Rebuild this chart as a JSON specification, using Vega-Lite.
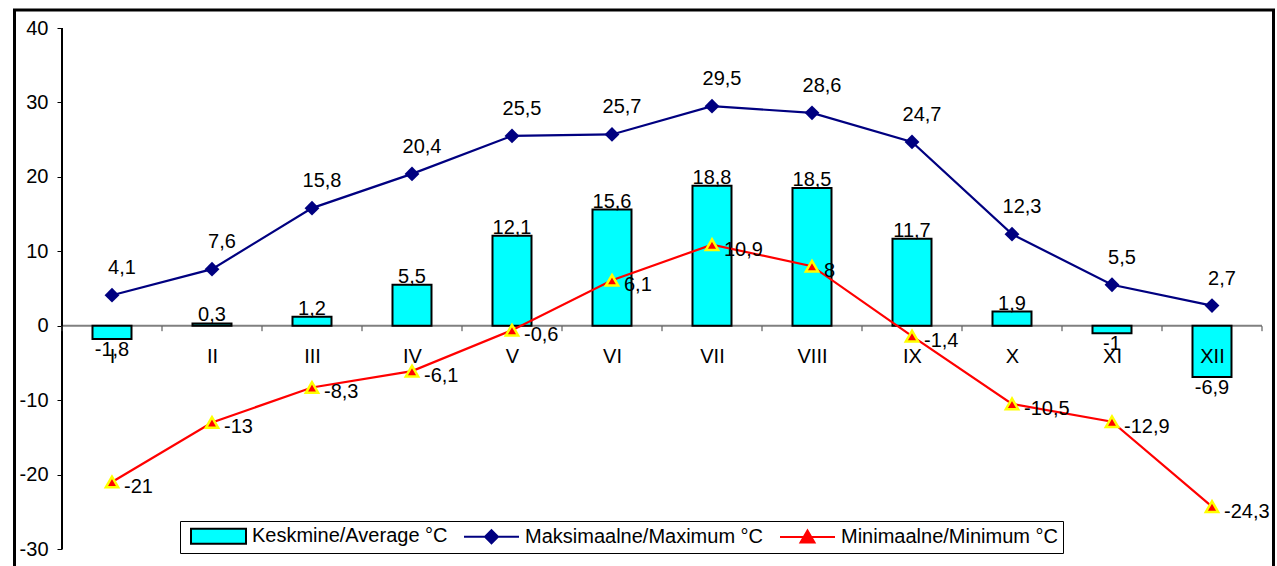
{
  "$schema": "https://vega.github.io/schema/vega-lite/v6.json",
  "autosize": "none",
  "width": 1259,
  "height": 562,
  "padding": {"left": 14.5, "top": 10, "right": 3.5, "bottom": -6},
  "background": "white",
  "config": {
    "font": "Liberation Sans",
    "locale": {"number": {"decimal": ",", "thousands": " ", "grouping": [3], "currency": ["", " €"], "minus": "-"}},
    "view": {"stroke": "black", "strokeWidth": 3, "fill": "white"},
    "axis": {"labelFont": "Liberation Sans", "labelFontSize": 20, "labelColor": "black", "grid": false},
    "text": {"font": "Liberation Sans", "fontSize": 20, "color": "black"}
  },
  "data": {
    "values": [
      {"m": "I", "avg": -1.8, "max": 4.1, "min": -21},
      {"m": "II", "avg": 0.3, "max": 7.6, "min": -13},
      {"m": "III", "avg": 1.2, "max": 15.8, "min": -8.3},
      {"m": "IV", "avg": 5.5, "max": 20.4, "min": -6.1},
      {"m": "V", "avg": 12.1, "max": 25.5, "min": -0.6},
      {"m": "VI", "avg": 15.6, "max": 25.7, "min": 6.1},
      {"m": "VII", "avg": 18.8, "max": 29.5, "min": 10.9},
      {"m": "VIII", "avg": 18.5, "max": 28.6, "min": 8},
      {"m": "IX", "avg": 11.7, "max": 24.7, "min": -1.4},
      {"m": "X", "avg": 1.9, "max": 12.3, "min": -10.5},
      {"m": "XI", "avg": -1, "max": 5.5, "min": -12.9},
      {"m": "XII", "avg": -6.9, "max": 2.7, "min": -24.3}
    ]
  },
  "encoding": {
    "x": {
      "field": "m", "type": "nominal", "sort": null,
      "scale": {"domain": ["I","II","III","IV","V","VI","VII","VIII","IX","X","XI","XII"], "paddingInner": 0, "paddingOuter": 0.295, "align": 0.805},
      "axis": {"orient": "bottom", "offset": -246.3, "domain": false, "ticks": true, "tickBand": "extent", "tickSize": 5, "tickColor": "#404040", "labelPadding": 16, "labelAngle": 0, "title": null}
    }
  },
  "layer": [
    {
      "mark": {"type": "rect", "filled": false, "stroke": "#808080", "strokeWidth": 2},
      "encoding": {
        "y": {"datum": 0, "type": "quantitative", "scale": {"domain": [-33.09, 42.42], "nice": false, "zero": false},
              "axis": {"orient": "left", "offset": -47.5, "values": [-30,-20,-10,0,10,20,30,40], "domain": false, "tickSize": 5, "tickColor": "black", "labelPadding": 9, "title": null, "format": "d"}},
        "y2": {"datum": 0}
      }
    },
    {
      "mark": {"type": "rule", "color": "black", "strokeWidth": 1},
      "encoding": {
        "x": {"datum": "I", "type": "nominal", "bandPosition": 0},
        "y": {"datum": -30, "type": "quantitative"},
        "y2": {"datum": 40}
      }
    },
    {
      "mark": {"type": "bar", "width": {"band": 0.39}, "strokeWidth": 2},
      "encoding": {
        "y": {"field": "avg", "type": "quantitative"},
        "y2": {"datum": 0},
        "fill": {"datum": "Keskmine/Average °C", "type": "nominal",
          "scale": {"domain": ["Keskmine/Average °C", "Maksimaalne/Maximum °C", "Minimaalne/Minimum °C"], "range": ["#00FFFF", "#000080", "#FF0000"]},
          "legend": {
            "orient": "none", "legendX": 165.5, "legendY": 511, "direction": "horizontal", "title": null,
            "fillColor": "white", "strokeColor": "black", "padding": 5,
            "symbolSize": 100, "symbolStrokeWidth": 2, "labelFontSize": 20, "labelFont": "Liberation Sans", "labelColor": "black",
            "labelOffset": 47, "columnPadding": 10, "labelLimit": 400,
            "encode": {"symbols": {"update": {
              "shape": {"signal": "datum.value === 'Keskmine/Average °C' ? 'M-0.8,-1.5H10.2V1.5H-0.8Z' : datum.value === 'Maksimaalne/Maximum °C' ? 'M-0.8,0H10.2M4.7,-1.3L6,0L4.7,1.3L3.4,0Z' : 'M-0.8,0H10.2M4.7,-1.3L6.1,1.1L3.3,1.1Z'"},
              "fill": {"signal": "scale('fill', datum.value)"},
              "stroke": {"signal": "scale('stroke', datum.value)"},
              "strokeWidth": {"value": 2},
              "opacity": {"value": 1},
              "fillOpacity": {"value": 1}
            }}}
          }},
        "stroke": {"datum": "Keskmine/Average °C", "type": "nominal",
          "scale": {"domain": ["Keskmine/Average °C", "Maksimaalne/Maximum °C", "Minimaalne/Minimum °C"], "range": ["#000000", "#000080", "#FF0000"]},
          "legend": {
            "orient": "none", "legendX": 165.5, "legendY": 511, "direction": "horizontal", "title": null,
            "fillColor": "white", "strokeColor": "black", "padding": 5,
            "symbolSize": 100, "symbolStrokeWidth": 2, "labelFontSize": 20, "labelFont": "Liberation Sans", "labelColor": "black",
            "labelOffset": 47, "columnPadding": 10, "labelLimit": 400,
            "encode": {"symbols": {"update": {
              "shape": {"signal": "datum.value === 'Keskmine/Average °C' ? 'M-0.8,-1.5H10.2V1.5H-0.8Z' : datum.value === 'Maksimaalne/Maximum °C' ? 'M-0.8,0H10.2M4.7,-1.3L6,0L4.7,1.3L3.4,0Z' : 'M-0.8,0H10.2M4.7,-1.3L6.1,1.1L3.3,1.1Z'"},
              "fill": {"signal": "scale('fill', datum.value)"},
              "stroke": {"signal": "scale('stroke', datum.value)"},
              "strokeWidth": {"value": 2},
              "opacity": {"value": 1},
              "fillOpacity": {"value": 1}
            }}}
          }}
      }
    },
    {
      "mark": {"type": "line", "strokeWidth": 2.2},
      "encoding": {
        "y": {"field": "max", "type": "quantitative"},
        "stroke": {"datum": "Maksimaalne/Maximum °C", "type": "nominal",
          "legend": {
            "orient": "none", "legendX": 165.5, "legendY": 511, "direction": "horizontal", "title": null,
            "fillColor": "white", "strokeColor": "black", "padding": 5,
            "symbolSize": 100, "symbolStrokeWidth": 2, "labelFontSize": 20, "labelFont": "Liberation Sans", "labelColor": "black",
            "labelOffset": 47, "columnPadding": 10, "labelLimit": 400,
            "encode": {"symbols": {"update": {
              "shape": {"signal": "datum.value === 'Keskmine/Average °C' ? 'M-0.8,-1.5H10.2V1.5H-0.8Z' : datum.value === 'Maksimaalne/Maximum °C' ? 'M-0.8,0H10.2M4.7,-1.3L6,0L4.7,1.3L3.4,0Z' : 'M-0.8,0H10.2M4.7,-1.3L6.1,1.1L3.3,1.1Z'"},
              "fill": {"signal": "scale('fill', datum.value)"},
              "stroke": {"signal": "scale('stroke', datum.value)"},
              "strokeWidth": {"value": 2},
              "opacity": {"value": 1},
              "fillOpacity": {"value": 1}
            }}}
          }}
      }
    },
    {
      "mark": {"type": "point", "shape": "diamond", "filled": true, "size": 220, "opacity": 1},
      "encoding": {
        "y": {"field": "max", "type": "quantitative"},
        "fill": {"datum": "Maksimaalne/Maximum °C", "type": "nominal",
          "legend": {
            "orient": "none", "legendX": 165.5, "legendY": 511, "direction": "horizontal", "title": null,
            "fillColor": "white", "strokeColor": "black", "padding": 5,
            "symbolSize": 100, "symbolStrokeWidth": 2, "labelFontSize": 20, "labelFont": "Liberation Sans", "labelColor": "black",
            "labelOffset": 47, "columnPadding": 10, "labelLimit": 400,
            "encode": {"symbols": {"update": {
              "shape": {"signal": "datum.value === 'Keskmine/Average °C' ? 'M-0.8,-1.5H10.2V1.5H-0.8Z' : datum.value === 'Maksimaalne/Maximum °C' ? 'M-0.8,0H10.2M4.7,-1.3L6,0L4.7,1.3L3.4,0Z' : 'M-0.8,0H10.2M4.7,-1.3L6.1,1.1L3.3,1.1Z'"},
              "fill": {"signal": "scale('fill', datum.value)"},
              "stroke": {"signal": "scale('stroke', datum.value)"},
              "strokeWidth": {"value": 2},
              "opacity": {"value": 1},
              "fillOpacity": {"value": 1}
            }}}
          }}
      }
    },
    {
      "mark": {"type": "line", "strokeWidth": 2.2},
      "encoding": {
        "y": {"field": "min", "type": "quantitative"},
        "stroke": {"datum": "Minimaalne/Minimum °C", "type": "nominal"}
      }
    },
    {
      "mark": {"type": "point", "shape": "triangle-up", "filled": true, "size": 150, "stroke": "#FFFF00", "strokeWidth": 2.5, "opacity": 1},
      "encoding": {
        "y": {"field": "min", "type": "quantitative"},
        "fill": {"datum": "Minimaalne/Minimum °C", "type": "nominal"}
      }
    },
    {
      "transform": [{"filter": "datum.avg >= 0"}],
      "mark": {"type": "text", "baseline": "alphabetic", "dy": -2},
      "encoding": {
        "y": {"field": "avg", "type": "quantitative"},
        "text": {"field": "avg", "type": "quantitative", "format": ".4~g"}
      }
    },
    {
      "transform": [{"filter": "datum.avg < 0"}],
      "mark": {"type": "text", "baseline": "top", "dy": 1},
      "encoding": {
        "y": {"field": "avg", "type": "quantitative"},
        "text": {"field": "avg", "type": "quantitative", "format": ".4~g"}
      }
    },
    {
      "mark": {"type": "text", "baseline": "middle", "align": "center", "dx": 10, "dy": -27},
      "encoding": {
        "y": {"field": "max", "type": "quantitative"},
        "text": {"field": "max", "type": "quantitative", "format": ".4~g"}
      }
    },
    {
      "mark": {"type": "text", "baseline": "middle", "align": "left", "dx": 12, "dy": 5},
      "encoding": {
        "y": {"field": "min", "type": "quantitative"},
        "text": {"field": "min", "type": "quantitative", "format": ".4~g"}
      }
    }
  ]
}
